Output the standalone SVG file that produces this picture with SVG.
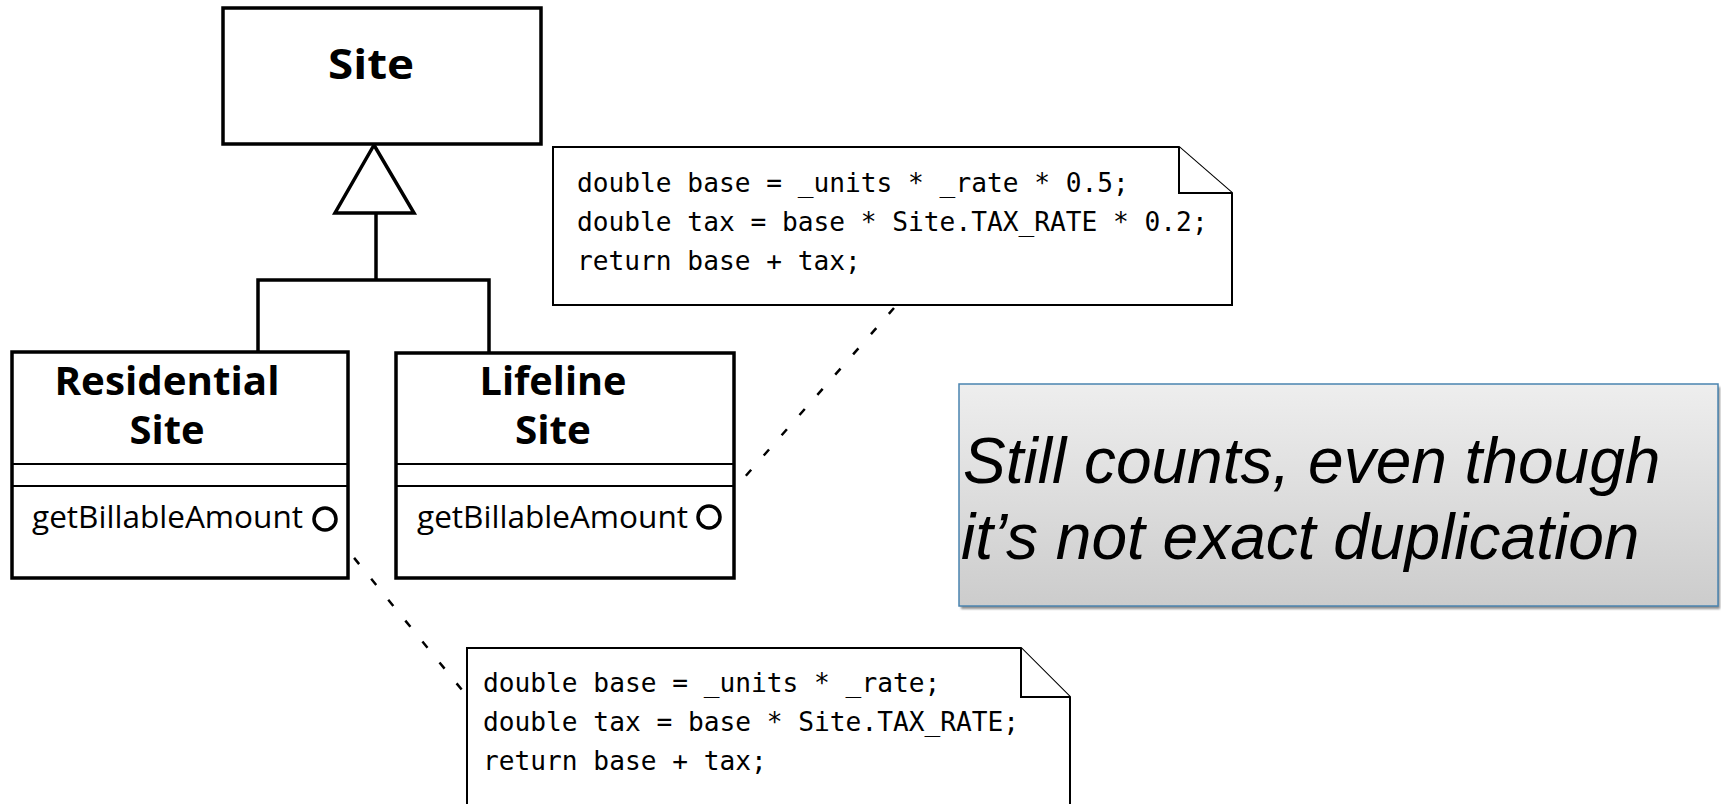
<svg xmlns="http://www.w3.org/2000/svg" width="1721" height="804" viewBox="0 0 1721 804">
  <style>
    .cls { fill: #ffffff; stroke: #000000; stroke-width: 3.5; }
    .sep { stroke: #000000; stroke-width: 2; }
    .title { font-family: "Open Sans", "Noto Sans", "DejaVu Sans", sans-serif; font-weight: bold; fill: #000000; text-anchor: middle; }
    .op { font-family: "Open Sans", "Noto Sans", "DejaVu Sans", sans-serif; font-size: 31px; fill: #000000; }
    .port { fill: #ffffff; stroke: #000000; stroke-width: 3.5; }
    .note { fill: #ffffff; stroke: #000000; stroke-width: 2; stroke-linejoin: miter; }
    .code { font-family: "DejaVu Sans Mono", "Liberation Mono", monospace; font-size: 26.2px; fill: #000000; }
    .inherit { fill: none; stroke: #000000; stroke-width: 3.5; }
    .anchor { fill: none; stroke: #000000; stroke-width: 2.5; stroke-dasharray: 8 19; }
    .callout-text { font-family: "Liberation Sans", Arial, sans-serif; font-style: italic; font-size: 64px; fill: #000000; }
  </style>
  <defs>
    <linearGradient id="calloutFill" x1="0" y1="0" x2="0" y2="1">
      <stop offset="0" stop-color="#eeeeee"/>
      <stop offset="1" stop-color="#cccccc"/>
    </linearGradient>
    <filter id="softShadow" x="-5%" y="-5%" width="110%" height="120%">
      <feGaussianBlur stdDeviation="1.2"/>
    </filter>
  </defs>

  <!-- connectors: generalization tree and note anchors -->
  <g id="connectors">
    <polyline class="inherit" points="376,214 376,280"/>
    <polyline class="inherit" points="258,352 258,280 489,280 489,353"/>
    <polygon class="inherit" points="374,145 335,213 414,213" style="fill:#ffffff"/>
    <line class="anchor" x1="337" y1="537" x2="462" y2="690"/>
    <line class="anchor" x1="728" y1="496" x2="894" y2="308"/>
  </g>

  <g id="site">
    <rect class="cls" x="223" y="8" width="318" height="136"/>
    <text class="title" x="371" y="79" font-size="42" textLength="86" lengthAdjust="spacingAndGlyphs">Site</text>
  </g>

  <g id="residential-site">
    <rect class="cls" x="12" y="352" width="336" height="226"/>
    <line class="sep" x1="12" y1="464" x2="348" y2="464"/>
    <line class="sep" x1="12" y1="486" x2="348" y2="486"/>
    <text class="title" x="167" y="395" font-size="39" textLength="225" lengthAdjust="spacingAndGlyphs">Residential</text>
    <text class="title" x="167" y="444" font-size="39" textLength="75" lengthAdjust="spacingAndGlyphs">Site</text>
    <text class="op" x="32" y="528" textLength="271" lengthAdjust="spacingAndGlyphs">getBillableAmount</text>
    <circle class="port" cx="325" cy="519" r="11"/>
  </g>

  <g id="lifeline-site">
    <rect class="cls" x="396" y="353" width="338" height="225"/>
    <line class="sep" x1="396" y1="464" x2="734" y2="464"/>
    <line class="sep" x1="396" y1="486" x2="734" y2="486"/>
    <text class="title" x="553" y="395" font-size="39" textLength="147" lengthAdjust="spacingAndGlyphs">Lifeline</text>
    <text class="title" x="553" y="444" font-size="39" textLength="76" lengthAdjust="spacingAndGlyphs">Site</text>
    <text class="op" x="417" y="528" textLength="271" lengthAdjust="spacingAndGlyphs">getBillableAmount</text>
    <circle class="port" cx="709" cy="517" r="11"/>
  </g>

  <g id="note-lifeline">
    <path class="note" d="M553,147 H1179 L1232,193 V305 H553 Z"/>
    <path class="note" fill="none" d="M1179,147 V193 H1232"/>
    <text class="code" x="577" y="192">double base = _units * _rate * 0.5;</text>
    <text class="code" x="577" y="231">double tax = base * Site.TAX_RATE * 0.2;</text>
    <text class="code" x="577" y="270">return base + tax;</text>
  </g>

  <g id="note-residential">
    <path class="note" d="M467,648 H1021 L1070,697 V812 H467 Z"/>
    <path class="note" fill="none" d="M1021,648 V697 H1070"/>
    <text class="code" x="483" y="692">double base = _units * _rate;</text>
    <text class="code" x="483" y="731">double tax = base * Site.TAX_RATE;</text>
    <text class="code" x="483" y="770">return base + tax;</text>
  </g>

  <g id="callout">
    <rect x="961" y="387" width="759" height="222" fill="#8f8f8f" filter="url(#softShadow)"/>
    <rect x="959" y="384" width="759" height="222" fill="url(#calloutFill)" stroke="#4a84b0" stroke-width="1.5"/>
    <text class="callout-text" x="963" y="483">Still counts, even though</text>
    <text class="callout-text" x="961" y="559">it’s not exact duplication</text>
  </g>
</svg>
